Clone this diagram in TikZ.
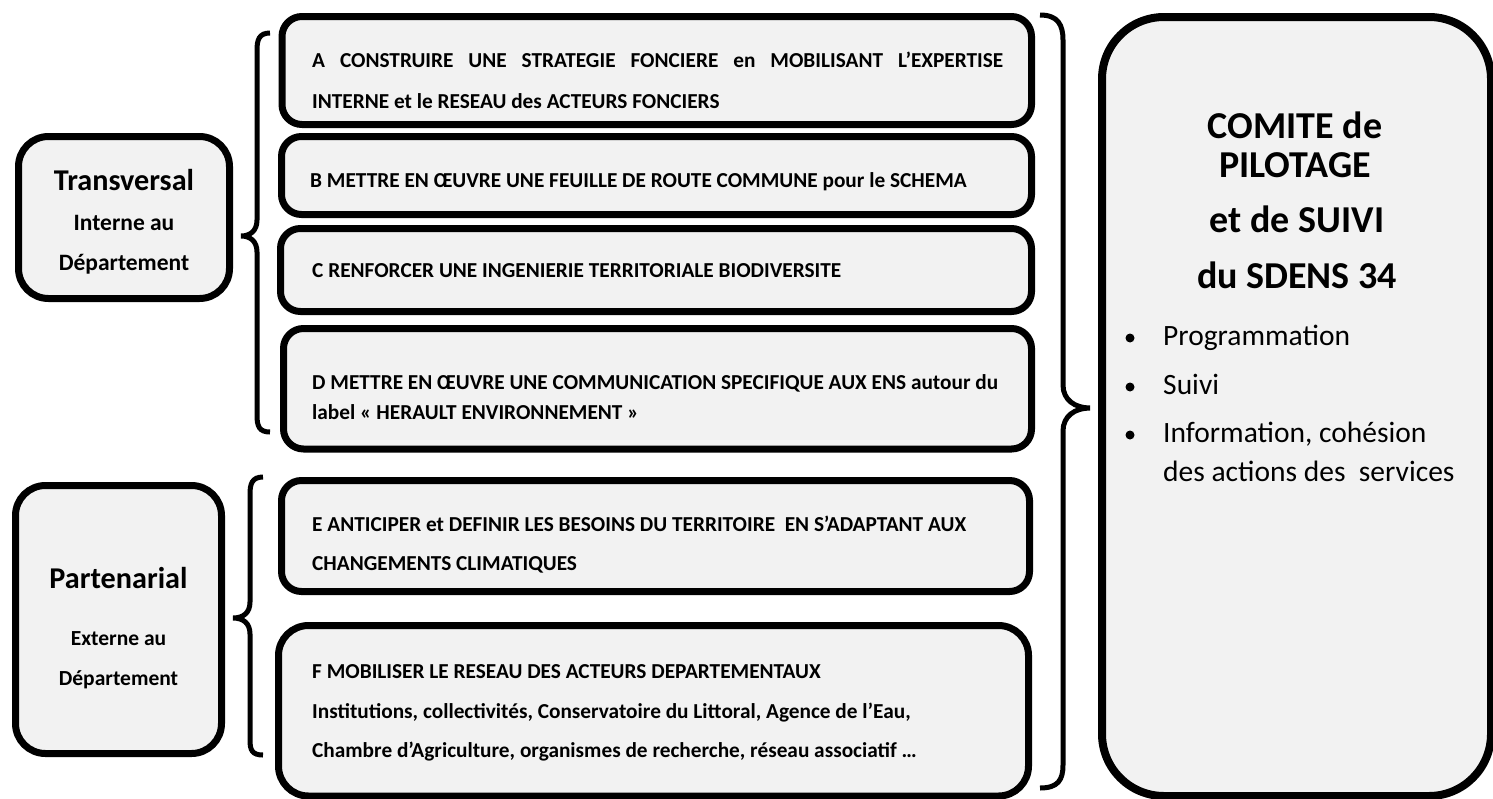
\documentclass[tikz,border=0pt]{standalone}
\usepackage{fontspec}
\setmainfont{Carlito}
\definecolor{boxgray}{HTML}{F2F2F2}
\begin{document}
\begin{tikzpicture}[x=1pt,y=-1pt,
  box/.style={draw=black, line width=7pt, fill=boxgray, rounded corners=20pt, inner sep=0pt},
  sidebox/.style={box, rounded corners=30pt},
  bigbox/.style={box, line width=8pt, rounded corners=62pt},
  brace/.style={draw=black, line width=5pt, line cap=butt},
  txt/.style={anchor=base west, inner sep=0pt, font=\bfseries\fontsize{21.3}{25}\selectfont},
  sidetitle/.style={anchor=base, inner sep=0pt, font=\bfseries\fontsize{30.2}{35}\selectfont},
  sidesub/.style={anchor=base, inner sep=0pt, font=\bfseries\fontsize{23.5}{28}\selectfont},
  sidesubb/.style={anchor=base, inner sep=0pt, font=\bfseries\fontsize{21.5}{25}\selectfont},
  comite/.style={anchor=base, inner sep=0pt, font=\bfseries\fontsize{38}{45}\selectfont},
  item/.style={anchor=base west, inner sep=0pt, font=\fontsize{29.5}{35}\selectfont},
  dot/.style={fill=black}
]
\useasboundingbox (0,0) rectangle (1493,798);
\clip (0,0) rectangle (1493,798);

% side boxes
\node[sidebox, minimum width=211pt, minimum height=162pt] (T) at (124,217.5) {};
\node[sidebox, minimum width=206pt, minimum height=268pt] (P) at (118.5,619.5) {};

% action boxes
\node[box, minimum width=749.5pt, minimum height=108pt] (A) at (656.75,70.5) {};
\node[box, minimum width=750pt, minimum height=78pt] (B) at (656.5,175.5) {};
\node[box, minimum width=751pt, minimum height=83pt] (C) at (656,270) {};
\node[box, minimum width=748pt, minimum height=120.5pt] (D) at (657.5,388.75) {};
\node[box, minimum width=748pt, minimum height=111pt] (E) at (655.5,536) {};
\node[box, rounded corners=30pt, minimum width=750pt, minimum height=170.5pt] (F) at (653.5,710.75) {};

% big box
\node[bigbox, minimum width=389pt, minimum height=779pt] (K) at (1296.5,406.5) {};

% braces
\draw[brace] (270,33) .. controls (259,33) and (257,40) .. (257,50) -- (257,220)
  .. controls (257,231) and (250,236) .. (241,236)
  .. controls (250,236) and (257,241) .. (257,252) -- (257,415)
  .. controls (257,426) and (259,432) .. (270,432);
\draw[brace] (263,477) .. controls (252,477) and (250,484) .. (250,494) -- (250,602)
  .. controls (250,613) and (243,618) .. (233,618)
  .. controls (243,618) and (250,623) .. (250,634) -- (250,740)
  .. controls (250,750) and (252,755) .. (263,755);
\draw[brace] (1040,15) .. controls (1058,15) and (1063,25) .. (1063,40) -- (1063,385)
  .. controls (1063,400) and (1075,408) .. (1090,408)
  .. controls (1075,408) and (1063,416) .. (1063,431) -- (1063,765)
  .. controls (1063,780) and (1058,788) .. (1040,788);

% side texts
\node[sidetitle] (T1) at (124,190) {Transversal};
\node[sidesub] (T2) at (124,230) {Interne au};
\node[sidesub] (T3) at (124,270) {Département};
\node[sidetitle] (P1) at (118.5,588) {Partenarial};
\node[sidesubb] (P2) at (118.5,645) {Externe au};
\node[sidesubb] (P3) at (118.5,685) {Département};

% action texts
\node[txt] (A1) at (312,67) {\makebox[691pt][s]{A CONSTRUIRE UNE STRATEGIE FONCIERE en MOBILISANT L’EXPERTISE}};
\node[txt] (A2) at (312,108) {INTERNE et le RESEAU des ACTEURS FONCIERS};
\node[txt] (B1) at (310,187) {B METTRE EN ŒUVRE UNE FEUILLE DE ROUTE COMMUNE pour le SCHEMA};
\node[txt] (C1) at (312,277) {C RENFORCER UNE INGENIERIE TERRITORIALE BIODIVERSITE};
\node[txt] (D1) at (312,389) {D METTRE EN ŒUVRE UNE COMMUNICATION SPECIFIQUE AUX ENS autour du};
\node[txt] (D2) at (312,419) {label « HERAULT ENVIRONNEMENT »};
\node[txt] (E1) at (312,531) {E ANTICIPER et DEFINIR LES BESOINS DU TERRITOIRE\ \ EN S’ADAPTANT AUX};
\node[txt] (E2) at (312,570) {CHANGEMENTS CLIMATIQUES};
\node[txt] (F1) at (312,678) {F MOBILISER LE RESEAU DES ACTEURS DEPARTEMENTAUX};
\node[txt] (F2) at (312,718) {Institutions, collectivités, Conservatoire du Littoral, Agence de l’Eau,};
\node[txt] (F3) at (312,757) {Chambre d’Agriculture, organismes de recherche, réseau associatif …};

% comite texts
\node[comite] (K1) at (1295,138) {COMITE de};
\node[comite] (K2) at (1295,177) {PILOTAGE};
\node[comite] (K3) at (1297,232) {et de SUIVI};
\node[comite] (K4) at (1297,288) {du SDENS 34};

\fill[dot] (1130,338) circle (4.5);
\fill[dot] (1130,387) circle (4.5);
\fill[dot] (1130,435) circle (4.5);
\node[item] (I1) at (1163,345) {Programmation};
\node[item] (I2) at (1163,394) {Suivi};
\node[item] (I3) at (1163,442) {Information, cohésion};
\node[item] (I4) at (1163,481) {des actions des\ \ services};
\end{tikzpicture}
\end{document}
